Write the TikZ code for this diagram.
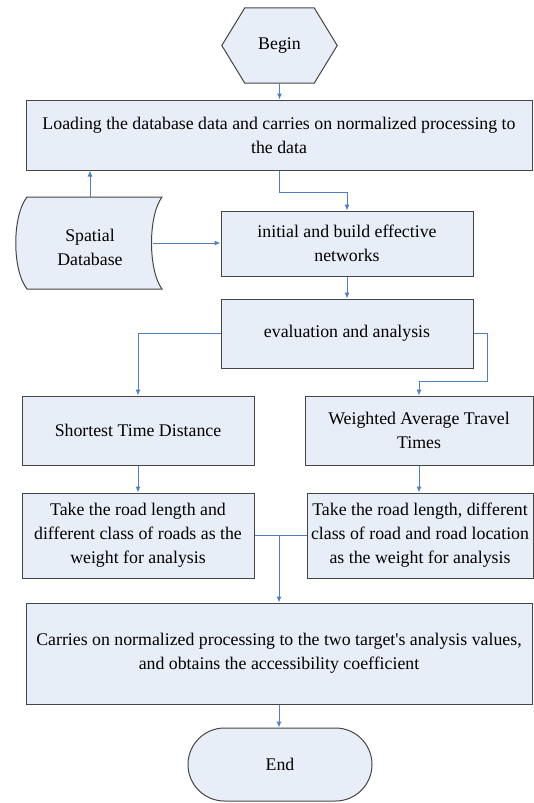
\documentclass[tikz,border=0pt]{standalone}
\usepackage{fontspec}
\setmainfont{Liberation Serif}
\usepackage{tikz}
\usetikzlibrary{calc,arrows.meta,shapes.misc}
\definecolor{boxfill}{HTML}{E8EEF7}
\definecolor{boxline}{HTML}{454545}
\definecolor{flowblue}{HTML}{4F7FC0}
\tikzset{
	stepbox/.style={rectangle, draw=boxline, fill=boxfill, line width=1pt, align=center, inner sep=2pt,
		font=\fontsize{17.8}{24}\selectfont},
	plainbox/.style={rectangle, inner sep=2pt, align=center, font=\fontsize{17.8}{24}\selectfont},
	flow/.style={draw=flowblue, line width=1pt, -{Latex[length=6pt,width=5pt]}},
	flowline/.style={draw=flowblue, line width=1pt}
}
\begin{document}
\begin{tikzpicture}[x=1pt, y=-1pt]
			%%%%% START %%%%%
			\useasboundingbox (0, 0) rectangle (534, 803);
			
			% begin hexagon
			\node[plainbox, minimum width=115pt, minimum height=75pt] (begin) at (279.5, 45.5) {};
			\draw[draw=boxline, fill=boxfill, line width=1pt] (begin.west) -- ($(begin.north west)+(23, 0)$) -- ($(begin.north east)+(-23, 0)$)
				-- (begin.east) -- ($(begin.south east)+(-23, 0)$) -- ($(begin.south west)+(23, 0)$) -- cycle;
			\node[plainbox] at (begin) {Begin};
			
			\node[stepbox, minimum width=506pt, minimum height=70pt] (load) at (279, 135)
				{Loading the database data and carries on normalized processing to\\the data};
			
			% spatial database (stored data)
			\node[plainbox, minimum width=147pt, minimum height=92pt] (sdb) at (88.5, 243) {};
			\draw[draw=boxline, fill=boxfill, line width=1pt] (27, 197) -- (162, 197)
				.. controls (148, 216) and (148, 270) .. (162, 289) -- (27, 289)
				.. controls (12, 270) and (12, 216) .. (27, 197) -- cycle;
			\node[plainbox] at (90, 247) {Spatial\\Database};
			\coordinate (sdbR) at (152.5, 243);
			
			\node[stepbox, minimum width=252pt, minimum height=65pt] (init) at (347, 243.5)
				{initial and build effective\\networks};
			\node[stepbox, minimum width=252pt, minimum height=69pt] (eval) at (347, 333.5)
				{evaluation and analysis};
			
			\node[stepbox, minimum width=232pt, minimum height=69pt] (shortest) at (138, 430.5)
				{Shortest Time Distance};
			\node[stepbox, minimum width=228pt, minimum height=69pt] (weighted) at (419, 430.5)
				{Weighted Average Travel\\Times};
			
			\node[stepbox, minimum width=232pt, minimum height=85pt] (take1) at (138, 535.5)
				{Take the road length and\\different class of roads as the\\weight for analysis};
			\node[stepbox, minimum width=226pt, minimum height=85pt] (take2) at (420, 535.5)
				{Take the road length, different\\class of road and road location\\as the weight for analysis};
			
			\node[stepbox, minimum width=506pt, minimum height=101pt] (final) at (279, 653.5)
				{Carries on normalized processing to the two target\textquotesingle s analysis values,\\and obtains the accessibility coefficient};
			
			\node[stepbox, rounded rectangle, minimum width=188pt, minimum height=73pt] (end) at (280, 764.5) {End};
			
			% connectors
			\draw[flow] (sdb.north -| 90, 0) -- (90, 0 |- load.south);
			\draw[flow] (begin.south) -- (begin.south |- load.north);
			\draw[flow] (load.south) -- ++(0, 22) -| (init.north);
			\draw[flow] (sdbR) -- (sdbR -| init.west);
			\draw[flow] (init.south) -- (eval.north);
			\draw[flow] (eval.west) -| (shortest.north);
			\draw[flow] (eval.east) -- ++(14, 0) |- ($(weighted.north)+(0, -14)$) -- (weighted.north);
			\draw[flow] (shortest.south) -- (take1.north);
			\draw[flow] (weighted.south) -- (weighted.south |- take2.north);
			\draw[flowline] (take1.east) -- (take2.west);
			\coordinate (join) at (final.north |- take1.east);
			\draw[flow] (join) -- (final.north);
			\draw[flow] (final.south) -- (final.south |- end.north);
			
			%%%%% END %%%%%
\end{tikzpicture}
\end{document}
